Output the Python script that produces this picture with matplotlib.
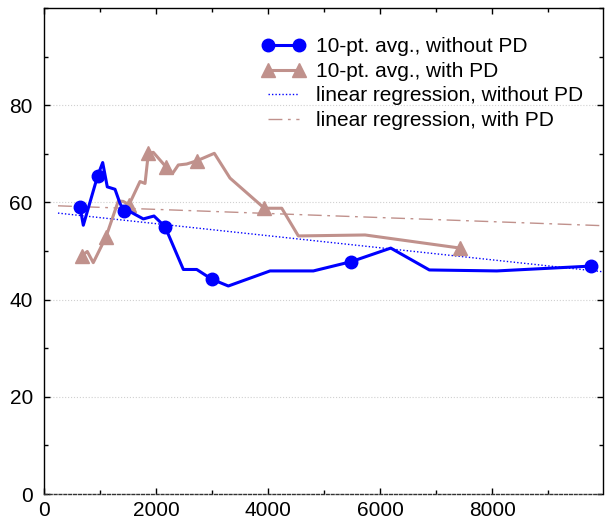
import matplotlib
matplotlib.use("Agg")
import matplotlib.pyplot as plt
from matplotlib.ticker import MultipleLocator

# data
x_without = [643, 702, 959, 1048, 1130, 1268, 1357, 1429, 1536, 1773, 1964, 2161,
             2488, 2727, 2995, 3291, 4036, 4809, 5482, 6191, 6880, 8084, 9768]
y_without = [59.1, 55.3, 65.5, 68.2, 63.2, 62.7, 59.8, 58.3, 58.1, 56.6, 57.2, 55.0,
             46.2, 46.2, 44.2, 42.8, 45.9, 45.9, 47.8, 50.6, 46.1, 45.9, 46.9]
marks_without = [0, 2, 7, 11, 14, 18, 22]

x_with = [673, 773, 880, 1107, 1327, 1416, 1518, 1714, 1804, 1863, 1952, 2179, 2298,
          2398, 2548, 2738, 3041, 3321, 3934, 4245, 4541, 5732, 7429]
y_with = [49.0, 49.9, 47.6, 52.9, 60.3, 60.2, 59.5, 64.3, 63.9, 70.1, 70.3, 67.3, 66.0,
          67.7, 67.9, 68.6, 70.1, 65.0, 58.8, 58.8, 53.1, 53.3, 50.6]
marks_with = [0, 3, 6, 9, 11, 15, 18, 22]

reg_x = [250, 10000]
reg_without = [57.8, 45.7]
reg_with = [59.3, 55.2]

BLUE = "#0000ff"
BROWN = "#c0918c"

plt.rcParams["font.family"] = ["Liberation Sans", "DejaVu Sans"]
plt.rcParams["font.size"] = 15

fig = plt.figure(figsize=(6.05, 5.26), dpi=100)
ax = fig.add_axes([0.0727, 0.0608, 0.9240, 0.9240])

ax.plot(x_without, y_without, color=BLUE, lw=2.2, marker="o", ms=9,
        markevery=marks_without, label="10-pt. avg., without PD", zorder=4)
ax.plot(x_with, y_with, color=BROWN, lw=2.2, marker="^", ms=10,
        markevery=marks_with, label="10-pt. avg., with PD", zorder=3)
ax.plot(reg_x, reg_without, color=BLUE, lw=1.0, ls=(0, (1, 1.5)),
        label="linear regression, without PD", zorder=2)
ax.plot(reg_x, reg_with, color=BROWN, lw=1.0, ls=(0, (10, 4, 2, 4)),
        label="linear regression, with PD", zorder=2)

ax.set_xlim(0, 9980)
ax.set_ylim(0, 100)
ax.set_xticks([0, 2000, 4000, 6000, 8000])
ax.xaxis.set_minor_locator(MultipleLocator(1000))
ax.set_yticks([0, 20, 40, 60, 80])
ax.yaxis.set_minor_locator(MultipleLocator(10))
ax.tick_params(which="both", direction="in", top=True, right=True, width=1.0)
ax.tick_params(which="major", length=4, pad=5)
ax.tick_params(which="minor", length=3)
ax.tick_params(axis="y", pad=8)

ax.grid(axis="y", which="major", color="#d0d0d0", ls=":", lw=0.8)
for s in ax.spines.values():
    s.set_linewidth(1.0)
ax.spines["bottom"].set_linestyle((0, (2, 1.5)))
ax.spines["bottom"].set_color("#333333")

leg = ax.legend(loc="upper left", bbox_to_anchor=(0.375, 0.957), frameon=False,
                numpoints=2, handlelength=2.1, handletextpad=0.5,
                labelspacing=0.27, borderaxespad=0.0)

fig.savefig("out.png", dpi=100)
